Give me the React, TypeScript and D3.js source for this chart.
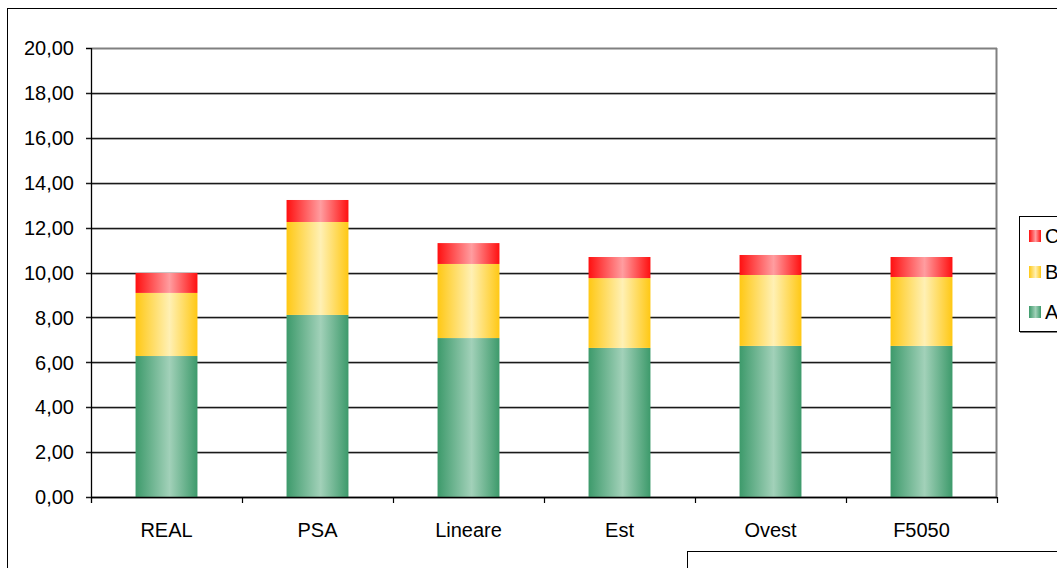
import React from "react";
import * as d3 from "d3";

const categories = ["REAL", "PSA", "Lineare", "Est", "Ovest", "F5050"];
const seriesA = [6.28, 8.11, 7.08, 6.64, 6.73, 6.73];
const seriesB = [2.81, 4.14, 3.30, 3.11, 3.16, 3.07];
const seriesC = [0.89, 0.98, 0.93, 0.94, 0.89, 0.89];
const yTicks = [0, 2, 4, 6, 8, 10, 12, 14, 16, 18, 20];
const seriesNames = ["A", "B", "C"];

const W = 1057;
const H = 568;
const left = 91;
const right = 997;
const top = 48;
const bottom = 497;

const gradients = [
  { id: "gA", edge: "#3d9a6b", mid: "#a2d1b9" },
  { id: "gB", edge: "#ffc814", mid: "#fff0b4" },
  { id: "gC", edge: "#ff1010", mid: "#ff9da0" },
];

export default function App() {
  const x = d3.scaleBand<string>().domain(categories).range([left, right]).paddingInner(0.59).paddingOuter(0.295);
  const y = d3.scaleLinear().domain([0, 20]).range([bottom, top]);
  const band = d3.scaleBand<string>().domain(categories).range([left, right]);

  const rows = categories.map((c, i) => ({ cat: c, A: seriesA[i], B: seriesB[i], C: seriesC[i] }));
  const stack = d3.stack<any>().keys(seriesNames)(rows);

  const font = "Arial, 'Liberation Sans', Helvetica, sans-serif";
  const fs = 20;

  return (
    <svg width={W} height={H} style={{ position: "absolute", left: 0, top: 0, fontFamily: font }}>
      <defs>
        {gradients.map((g) => (
          <linearGradient key={g.id} id={g.id} x1="0" x2="1" y1="0" y2="0">
            <stop offset="0" stopColor={g.edge} />
            <stop offset="0.55" stopColor={g.mid} />
            <stop offset="1" stopColor={g.edge} />
          </linearGradient>
        ))}
      </defs>
      <rect x={0} y={0} width={W} height={H} fill="#fff" />
      <rect x={7.5} y={8.5} width={W + 10} height={H + 10} fill="none" stroke="#000" strokeWidth={1} />

      {/* gridlines */}
      {yTicks.map((t) => (
        <g key={t}>
          {t > 0 && t < 20 && (
            <line x1={left} x2={right} y1={Math.round(y(t)) + 1.5} y2={Math.round(y(t)) + 1.5} stroke="#d8d8d8" strokeWidth={1} />
          )}
          <line
            x1={left - 5}
            x2={right}
            y1={Math.round(y(t)) + 0.5}
            y2={Math.round(y(t)) + 0.5}
            stroke={t === 20 ? "#808080" : "#1a1a1a"}
            strokeWidth={t === 20 ? 2 : 1.3}
          />
          <text x={74} y={y(t)} dy="0.36em" textAnchor="end" fontSize={fs} fill="#000">
            {d3.format(".2f")(t).replace(".", ",")}
          </text>
        </g>
      ))}
      <line x1={left - 5} x2={left} y1={y(20) + 0.5} y2={y(20) + 0.5} stroke="#000" strokeWidth={1} />
      {/* right border */}
      <line x1={right - 0.5} x2={right - 0.5} y1={top} y2={bottom} stroke="#808080" strokeWidth={2} />

      {/* bars */}
      {stack.map((s, si) => (
        <g key={si}>
          {s.map((d: any, i: number) => (
            <rect
              key={i}
              x={x(categories[i])}
              width={x.bandwidth()}
              y={y(d[1])}
              height={y(d[0]) - y(d[1])}
              fill={`url(#${gradients[si].id})`}
            />
          ))}
        </g>
      ))}

      {/* axes */}
      <line x1={left + 0.5} x2={left + 0.5} y1={top} y2={bottom + 6} stroke="#000" strokeWidth={1.3} />
      <line x1={left} x2={right} y1={bottom + 0.5} y2={bottom + 0.5} stroke="#000" strokeWidth={1.3} />
      {categories.map((c, i) => (
        <line key={"t" + i} x1={band(c)! + band.bandwidth() + 0.5} x2={band(c)! + band.bandwidth() + 0.5} y1={bottom} y2={bottom + 6} stroke="#000" strokeWidth={1.2} />
      ))}
      {categories.map((c) => (
        <text key={c} x={band(c)! + band.bandwidth() / 2} y={537} textAnchor="middle" fontSize={fs} fill="#000">
          {c}
        </text>
      ))}

      {/* legend */}
      <rect x={1020} y={217} width={60} height={116} fill="#808080" />
      <rect x={1019.5} y={216.5} width={60} height={115} fill="#fff" stroke="#000" strokeWidth={1} />
      {["C", "B", "A"].map((n, i) => {
        const gi = seriesNames.indexOf(n);
        const cy = [236, 272, 312][i];
        return (
          <g key={n}>
            <rect x={1029} y={cy - 6} width={12} height={12} fill={`url(#${gradients[gi].id})`} />
            <text x={1045} y={cy} dy="0.36em" fontSize={fs} fill="#000">
              {n}
            </text>
          </g>
        );
      })}

      {/* bottom-right box */}
      <rect x={687.5} y={551.5} width={400} height={40} fill="#fff" stroke="#000" strokeWidth={1} />
    </svg>
  );
}
